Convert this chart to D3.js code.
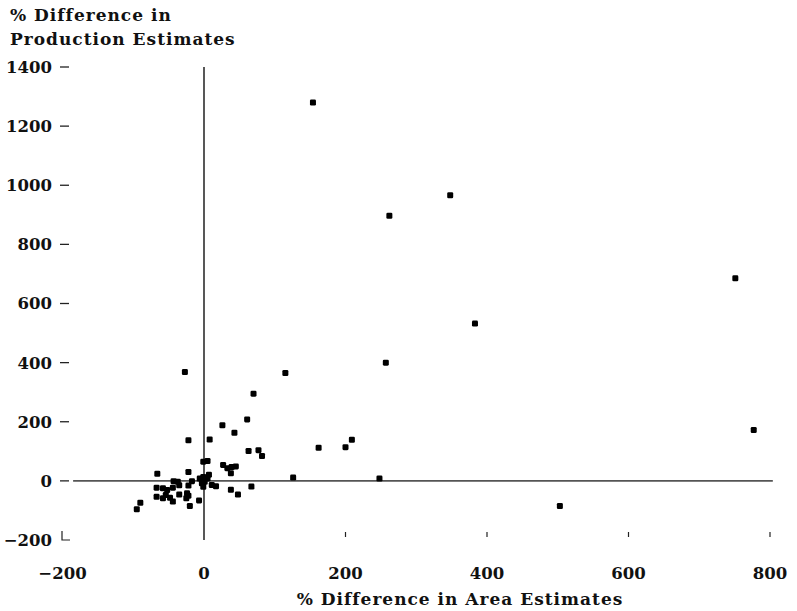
<!DOCTYPE html>
<html>
<head>
<meta charset="utf-8">
<script src="https://cdn.jsdelivr.net/npm/d3@7"></script>
<style>
  body { margin: 0; background: #fff; }
  text { font-family: "DejaVu Serif", serif; font-weight: bold; fill: #111; }
  .title { font-size: 17px; letter-spacing: 1px; }
  .tick { font-size: 16.5px; }
</style>
</head>
<body>
<svg width="797" height="611"></svg>
<script>
// tick values
var xTicks = [-200, 0, 200, 400, 600, 800];
var yTicks = [-200, 0, 200, 400, 600, 800, 1000, 1200, 1400];

// % difference in area (x) and production (y) estimates
var areaDiff = [154, 348, 262, 751, 383, 257, 115, -27, 70, 61, 26, 43, -22, 8, 209, 200, 162, 63, 77, 82,
  777, 503, 126, 248, 67, 48, 38, -1, 5, 27, 33, 39, 45, 38, 7, -66, -22, -43, -37, -35,
  -17, -22, -6, -1, -3, 1, 5, -1, 11, 17, -67, -58, -52, -44, -67, -58, -54, -48, -44, -35,
  -25, -22, -24, -7, -20, -90, -95];
var prodDiff = [1280, 966, 897, 685, 532, 400, 365, 368, 295, 208, 188, 163, 137, 140, 139, 114, 112, 101, 104, 84,
  172, -85, 11, 8, -19, -46, -30, 65, 67, 54, 43, 47, 49, 26, 21, 24, 30, -1, -3, -15,
  -1, -16, 8, 13, -8, -3, 8, -20, -14, -18, -23, -25, -31, -23, -54, -59, -48, -57, -70, -46,
  -59, -50, -42, -66, -85, -74, -96];

var points = areaDiff.map(function(d, i) { return {x: d, y: prodDiff[i]}; });

var svg = d3.select("svg");

var x = d3.scaleLinear().domain([-200, 800]).range([62.5, 770]);
var y = d3.scaleLinear().domain([-200, 1400]).range([540, 67]);

function fmt(d) { return d < 0 ? "\u2212" + Math.abs(d) : d; }

//y titel, twee regels
svg.append("text").attr("class", "title").attr("x", 10).attr("y", 21).text("% Difference in");
svg.append("text").attr("class", "title").attr("x", 10).attr("y", 45).text("Production Estimates");

//y ticks: korte streepjes rechts van de labels
var gy = svg.append("g");
gy.selectAll(".ylab")
  .data(yTicks)
  .enter().append("text")
    .attr("class", "tick")
    .attr("x", 52)
    .attr("y", function(d) { return y(d); })
    .attr("dy", "0.36em")
    .attr("text-anchor", "end")
    .text(fmt);
gy.selectAll(".ytick")
  .data(yTicks.filter(function(d) { return d > -200; }))
  .enter().append("line")
    .attr("x1", 60).attr("x2", 69)
    .attr("y1", function(d) { return y(d); })
    .attr("y2", function(d) { return y(d); })
    .attr("stroke", "#222").attr("stroke-width", 1.3);

// hoekje bij -200
svg.append("path")
  .attr("d", "M62," + (y(-200) - 9) + "V" + y(-200) + "H70")
  .attr("fill", "none").attr("stroke", "#222").attr("stroke-width", 1.2);

//x ticks en labels
var gx = svg.append("g");
gx.selectAll(".xlab")
  .data(xTicks)
  .enter().append("text")
    .attr("class", "tick")
    .attr("x", function(d) { return x(d); })
    .attr("y", 579)
    .attr("text-anchor", "middle")
    .text(fmt);
gx.selectAll(".xtick")
  .data(xTicks.filter(function(d) { return d > 0; }))
  .enter().append("line")
    .attr("x1", function(d) { return x(d); })
    .attr("x2", function(d) { return x(d); })
    .attr("y1", 532).attr("y2", 537)
    .attr("stroke", "#222").attr("stroke-width", 1.2);

svg.append("text")
  .attr("class", "title")
  .attr("x", 460).attr("y", 605)
  .attr("text-anchor", "middle")
  .text("% Difference in Area Estimates");

//nul-lijnen
svg.append("line")
  .attr("x1", x(-185)).attr("x2", x(804))
  .attr("y1", y(0)).attr("y2", y(0))
  .attr("stroke", "#555").attr("stroke-width", 1.6);
svg.append("line")
  .attr("x1", x(0)).attr("x2", x(0))
  .attr("y1", y(1400)).attr("y2", y(-200))
  .attr("stroke", "#111").attr("stroke-width", 1.4);

//punten
svg.selectAll(".pt")
  .data(points)
  .enter().append("rect")
    .attr("class", "pt")
    .attr("x", function(d) { return x(d.x) - 3; })
    .attr("y", function(d) { return y(d.y) - 3; })
    .attr("width", 6).attr("height", 6)
    .attr("rx", 1.3)
    .attr("fill", "#000");
</script>
</body>
</html>
